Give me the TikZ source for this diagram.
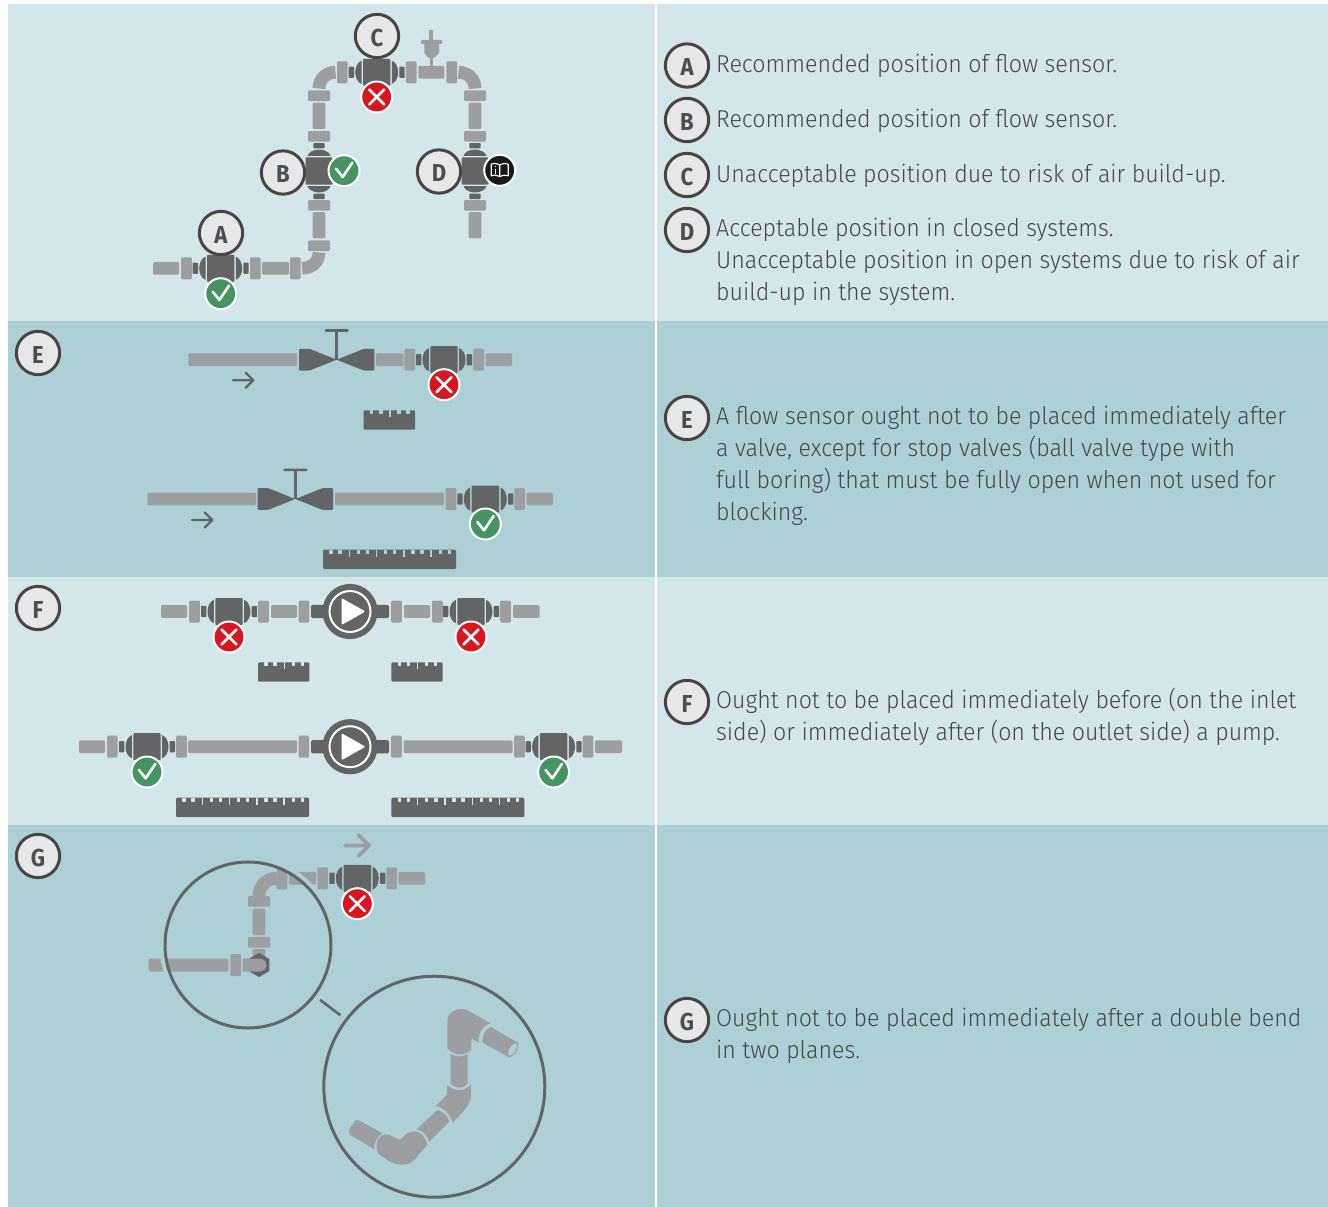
\documentclass[tikz,border=0pt]{standalone}
\usepackage{fontspec}
\newfontfamily\bodyf{Fira Sans Light}[FakeStretch=0.95]
\newfontfamily\labf{Fira Sans}[FakeStretch=0.9]
\definecolor{panL}{HTML}{D3E6EA}
\definecolor{panD}{HTML}{ACD0D6}
\definecolor{pg}{HTML}{9D9EA2}
\definecolor{dg}{HTML}{636466}
\definecolor{okg}{HTML}{459561}
\definecolor{nor}{HTML}{D9151F}
\definecolor{lab}{HTML}{4D4E50}
\definecolor{edge}{HTML}{4B4441}
\definecolor{labf}{HTML}{E6E7E8}
\definecolor{txt}{HTML}{464648}
\tikzset{
 labcirc/.style={circle,draw=edge,line width=3pt,fill=labf,minimum size=43.3pt,inner sep=0pt,text=lab,text height=20.2pt,text depth=0pt,font=\labf\fontsize{24.5}{26}\selectfont\bfseries},
 okbadge/.style={circle,draw=white,line width=2pt,fill=okg,minimum size=31pt,inner sep=0pt},
 nobadge/.style={circle,draw=white,line width=2pt,fill=nor,minimum size=31pt,inner sep=0pt},
 infobadge/.style={circle,draw=white,line width=2pt,fill=black!90,minimum size=31pt,inner sep=0pt},
 marker/.style={draw=white,line width=2.6pt,line cap=round,line join=round},
 legendtext/.style={anchor=north west,inner sep=0pt,align=left,text=txt,font=\bodyf\fontsize{24.4}{32}\selectfont},
 elbow/.style={draw=pg,line width=12.8pt},
 lens/.style={circle,draw=dg,line width=3pt,inner sep=0pt},
}
% pipe parts
\newcommand{\ph}[3]{\fill[pg,rounded corners=1.2pt] (#1,{#3-6.4}) rectangle (#2,{#3+6.4});}
\newcommand{\pv}[3]{\fill[pg,rounded corners=1.2pt] ({#1-6.4},#2) rectangle ({#1+6.4},#3);}
\newcommand{\fh}[2]{\fill[pg,rounded corners=1.2pt] ({#1-5.3},{#2-11}) rectangle ({#1+5.3},{#2+11});}
\newcommand{\fv}[2]{\fill[pg,rounded corners=1.2pt] ({#1-11},{#2-5.3}) rectangle ({#1+11},{#2+5.3});}
\newcommand{\mtr}[3]{\begin{scope}[shift={(#1,#2)},rotate=#3]
 \fill[dg,rounded corners=1pt] (-13.7,-13.5) rectangle (13.7,13.5);
 \fill[dg] (-15.2,-11.5) .. controls (-19,-10.5) and (-21.5,-5) .. (-21.5,0) .. controls (-21.5,5) and (-19,10.5) .. (-15.2,11.5) -- cycle;
 \fill[dg] (15.2,-11.5) .. controls (19,-10.5) and (21.5,-5) .. (21.5,0) .. controls (21.5,5) and (19,10.5) .. (15.2,11.5) -- cycle;
 \fill[dg,rounded corners=.8pt] (-28,-5.6) rectangle (-22.7,5.6);
 \fill[dg,rounded corners=.8pt] (22.7,-5.6) rectangle (28,5.6);
\end{scope}}
\newcommand{\okb}[3]{\node[okbadge] (#1) at (#2,#3) {};
 \draw[marker] ([shift={(-8,-2)}]#1.center) -- ([shift={(-1.3,6.3)}]#1.center) -- ([shift={(8.3,-8)}]#1.center);}
\newcommand{\nob}[3]{\node[nobadge] (#1) at (#2,#3) {};
 \draw[marker] ([shift={(-7.5,-7.5)}]#1.center) -- ([shift={(7.5,7.5)}]#1.center);
 \draw[marker] ([shift={(-7.5,7.5)}]#1.center) -- ([shift={(7.5,-7.5)}]#1.center);}
\newcommand{\valve}[2]{\begin{scope}[shift={(#1,#2)}]
 \fill[dg,rounded corners=1pt] (-37.7,-10.8) -- (-27,-10.8) -- (0,0) -- (-27,10.8) -- (-37.7,10.8) -- cycle;
 \fill[dg,rounded corners=1pt] (37.7,-10.8) -- (27,-10.8) -- (0,0) -- (27,10.8) -- (37.7,10.8) -- cycle;
 \fill[dg] (-1.3,0) rectangle (1.3,-30);
 \fill[dg,rounded corners=1pt] (-12,-30.5) rectangle (12,-27.8);
\end{scope}}
% colour, x1, x2, y, width, head size
\newcommand{\flowarrow}[6]{\draw[#1,line width=#5,line cap=round,line join=round] (#2,#4) -- (#3,#4) ({#3-#6},{#4-#6}) -- (#3,#4) -- ({#3-#6},{#4+#6});}
% x, top y, last notch index, background
\newcommand{\ruler}[4]{\begin{scope}[shift={(#1,#2)}]
 \pgfmathsetmacro{\rw}{#3==4?51.3:133}
 \fill[dg,rounded corners=1.2pt] (0,0) rectangle (\rw,19.4);
 \foreach \k in {0,...,#3}{
  \pgfmathtruncatemacro{\md}{mod(\k,3)}
  \ifnum\md=2
   \fill[#4] ({8+9.1*\k-.7},-.2) rectangle ({8+9.1*\k+.7},7);
  \else
   \fill[#4] ({8+9.1*\k-1.7},-.2) rectangle ({8+9.1*\k+1.7},4);
  \fi}
\end{scope}}
\newcommand{\pump}[2]{\begin{scope}[shift={(#1,#2)}]
 \fill[dg,rounded corners=1.5pt] (-39,-6.7) rectangle (39,6.7);
 \fill[dg] (0,0) circle (27.6);
 \draw[white,line width=2pt] (0,0) circle (20.5);
 \fill[white,rounded corners=1.2pt] (-8.5,-13.5) -- (15.5,0) -- (-8.5,13.5) -- cycle;
\end{scope}}
\begin{document}
\begin{tikzpicture}[x=1pt,y=-1pt]
\path[use as bounding box] (0,0) rectangle (1328,1207);
\fill[white] (0,0) rectangle (1328,1207);
\fill[panL] (7.5,4.5) rectangle (1328,321);
\fill[panD] (7.5,321) rectangle (1328,577);
\fill[panL] (7.5,577) rectangle (1328,825);
\fill[panD] (7.5,825) rectangle (1328,1206.5);
\fill[white] (655,4.5) rectangle (656.5,1207);
% ---------- panel 1
\ph{153}{179}{268.3}\fh{186.5}{268.3}\fh{255.3}{268.3}\ph{262}{289}{268.3}\fh{295.3}{268.3}
\draw[elbow] (302,268.3) .. controls (312,268.3) and (319,261.5) .. (319,252.5);
\fv{319}{245.7}\pv{319}{212}{238.3}\fv{319}{205.3}
\fv{319}{136.3}\pv{319}{102.7}{129}\fv{319}{95.7}
\draw[elbow] (319,88.5) .. controls (319,79) and (326,72.3) .. (335.5,72.3);
\fh{342.3}{72.3}\fh{411.2}{72.3}\ph{418.3}{444.3}{72.3}\fh{451.7}{72.3}
\draw[elbow] (458.5,72.3) .. controls (468,72.3) and (475,79) .. (475,88.5);
\fv{475}{95.7}\pv{475}{102.7}{129}\fv{475}{136.3}
\fv{475}{205.3}\pv{475}{212}{238.3}
% air vent
\fill[pg] (429.5,53) rectangle (432.7,67);
\fill[pg] (424.3,44) -- (439,44) -- (439,53) -- (434,58) -- (428.7,58) -- (424.3,53) -- cycle;
\fill[pg,rounded corners=1pt] (421,40) rectangle (442,44);
\fill[pg] (429.3,30) rectangle (432.9,40);
\mtr{220.7}{268.3}{0}\mtr{319}{171}{90}\mtr{376.7}{72.3}{0}\mtr{475}{171}{90}
\okb{okA}{220.7}{293.7}\okb{okB}{344}{170.7}\nob{noC}{376.7}{97}
\node[infobadge] (infoD) at (499.7,170.3) {};
\begin{scope}[shift={(infoD.center)}]
 \draw[white,line width=1.1pt,line join=round] (0,-5.5) .. controls (-3,-7.2) and (-6,-7.2) .. (-8.5,-6.2) -- (-8.5,5.5) .. controls (-6,4.5) and (-3,4.5) .. (0,6.2) .. controls (3,4.5) and (6,4.5) .. (8.5,5.5) -- (8.5,-6.2) .. controls (6,-7.2) and (3,-7.2) .. (0,-5.5) -- (0,6.2);
 \draw[white,line width=1.4pt] (-4.2,-1.8) -- (-4.2,3.2) (-4.2,-4.5) -- (-4.2,-3.2);
\end{scope}
\node[labcirc] (A) at (221,233) {A};
\node[labcirc] (B) at (283,172.5) {B};
\node[labcirc] (C) at (377,36) {C};
\node[labcirc] (D) at (439,171.5) {D};
% ---------- panel E
\ph{188.3}{297}{359.7}\valve{336.7}{359.7}\ph{376}{403.3}{359.7}\fh{409.7}{359.7}\fh{478.7}{359.7}\ph{485.7}{512}{359.7}
\mtr{444}{359.7}{0}\nob{noE}{444}{384.7}
\flowarrow{dg}{233}{253.3}{380.3}{2.3pt}{7.5}
\ruler{363.7}{410.3}{4}{panD}
\ph{147.3}{256}{499}\valve{295.3}{499}\ph{335}{444}{499}\fh{451}{499}\fh{519.6}{499}\ph{526.7}{553}{499}
\mtr{485.3}{499}{0}\okb{okE}{485.3}{524}
\flowarrow{dg}{192}{212.3}{520}{2.3pt}{7.5}
\ruler{323}{549.7}{13}{panD}
\node[labcirc] (E) at (38,353) {E};
% ---------- panel F
\ph{161}{187}{611.5}\fh{194.5}{611.5}\fh{263.5}{611.5}\ph{271}{297}{611.5}\fh{304}{611.5}
\fh{396.5}{611.5}\ph{404}{430}{611.5}\fh{437.5}{611.5}\fh{505.5}{611.5}\ph{513}{539.5}{611.5}
\mtr{229}{611.5}{0}\mtr{471}{611.5}{0}\pump{350}{611.5}
\nob{noF1}{229}{637}\nob{noF2}{471}{637}
\ruler{258}{662.3}{4}{panL}\ruler{391.3}{662.3}{4}{panL}
\ph{79}{105}{746.7}\fh{112.3}{746.7}\fh{181.5}{746.7}\ph{188}{297}{746.7}\fh{303.8}{746.7}
\fh{396.5}{746.7}\ph{403.6}{512.5}{746.7}\fh{519.5}{746.7}\fh{588}{746.7}\ph{595}{622}{746.7}
\mtr{147}{746.7}{0}\mtr{553.6}{746.7}{0}\pump{350}{746.7}
\okb{okF1}{147}{772}\okb{okF2}{553.6}{772}
\ruler{176}{797.7}{13}{panL}\ruler{391.4}{797.7}{13}{panL}
\node[labcirc] (F) at (38,608) {F};
% ---------- panel G
\ph{289}{316}{878.3}\fh{322.6}{878.3}\fh{391.6}{878.3}\ph{398.3}{425}{878.3}\fh{282}{878.3}
\draw[elbow] (277,878.3) .. controls (266,878.3) and (259,886) .. (259,896.5);
\fv{259}{901.4}\pv{259}{908.7}{935}\fv{259}{942.2}\pv{259}{949}{958}
\fill[dg] (259,953) -- (269.4,959) -- (269.4,971) -- (259,977) -- (248.6,971) -- (248.6,959) -- cycle;
\fill[pg] (242.7,958.7) -- (260,958.7) arc[start angle=-90,end angle=90,radius=6.4] -- (242.7,971.5) -- cycle;
\ph{148.7}{228.3}{965.1}\fh{235.6}{965.1}
\draw[panD,line width=5pt] (248,945) circle (86);
\node[lens,minimum size=166pt] (lensS) at (248,945) {};
\mtr{357.3}{878.3}{0}\nob{noG}{357.3}{903.7}
\flowarrow{pg}{345}{369}{845.5}{3.8pt}{10.5}
\node[lens,minimum size=221pt] (lensB) at (434.3,1086.7) {};
\draw[dg,line width=2.5pt,shorten <=6pt,shorten >=6pt] (lensS) -- (lensB);
\begin{scope}[shift={(320,970)},x=.3333pt,y=-.3333pt]
 \fill[pg] (382,150) .. controls (382,125) and (420,105) .. (450,125) -- (512,160) .. controls (490,165) and (472,190) .. (476,218) -- (455,205) -- (453,240) .. controls (430,258) and (405,258) .. (382,235) -- cycle;
 \fill[pg] (512,171) -- (590,216) -- (567,262) -- (488,218) .. controls (486,195) and (495,178) .. (512,171) -- cycle;
 \fill[pg] (578,238) ellipse [x radius=13,y radius=25,rotate=-30];
 \fill[panD] (578,238) ellipse [x radius=9,y radius=20,rotate=-30];
 \fill[pg] (392,252) .. controls (408,262) and (428,262) .. (443,252) -- (443,340) .. controls (428,358) and (408,358) .. (392,340) -- cycle;
 \fill[pg] (382,345) .. controls (405,365) and (430,365) .. (453,345) -- (453,380) .. controls (450,405) and (430,425) .. (398,458) .. controls (392,435) and (375,415) .. (348,408) -- (380,375) -- cycle;
 \fill[pg] (352,420) .. controls (370,425) and (385,440) .. (388,455) -- (328,515) .. controls (322,495) and (308,482) .. (290,478) -- cycle;
 \fill[pg] (170,525) .. controls (170,500) and (190,490) .. (208,495) -- (240,510) .. controls (260,490) and (270,480) .. (292,485) .. controls (305,490) and (318,505) .. (322,525) -- (295,555) .. controls (275,590) and (235,590) .. (205,572) -- (180,555) .. controls (170,545) and (168,535) .. (170,525) -- cycle;
 \fill[pg] (106,452) .. controls (110,449) and (114,449) .. (118,452) -- (187,490) .. controls (170,500) and (162,520) .. (162,537) -- (94,497) .. controls (85,491) and (85,482) .. (90,474) -- cycle;
\end{scope}
\node[labcirc] (G) at (38,856) {G};
% ---------- legend
\node[labcirc] (LA) at (687,65.5) {A};
\node[labcirc] (LB) at (687,120) {B};
\node[labcirc] (LC) at (687,175) {C};
\node[labcirc] (LD) at (687,230) {D};
\node[labcirc] (LE) at (687,418) {E};
\node[labcirc] (LF) at (687,702) {F};
\node[labcirc] (LG) at (687,1020) {G};
\node[legendtext] (TA) at (716,49.6) {\strut Recommended position of flow sensor.};
\node[legendtext] (TB) at (716,104.6) {\strut Recommended position of flow sensor.};
\node[legendtext] (TC) at (716,159.6) {\strut Unacceptable position due to risk of air build-up.};
\node[legendtext] (TD) at (716,213.6) {\strut Acceptable position in closed systems.\\\strut Unacceptable position in open systems due to risk of air\\\strut build-up in the system.};
\node[legendtext] (TE) at (716,401.6) {\strut A flow sensor ought not to be placed immediately after\\\strut a valve, except for stop valves (ball valve type with\\\strut full boring) that must be fully open when not used for\\\strut blocking.};
\node[legendtext] (TF) at (716,685.6) {\strut Ought not to be placed immediately before (on the inlet\\\strut side) or immediately after (on the outlet side) a pump.};
\node[legendtext] (TG) at (716,1003.6) {\strut Ought not to be placed immediately after a double bend\\\strut in two planes.};
\end{tikzpicture}
\end{document}
